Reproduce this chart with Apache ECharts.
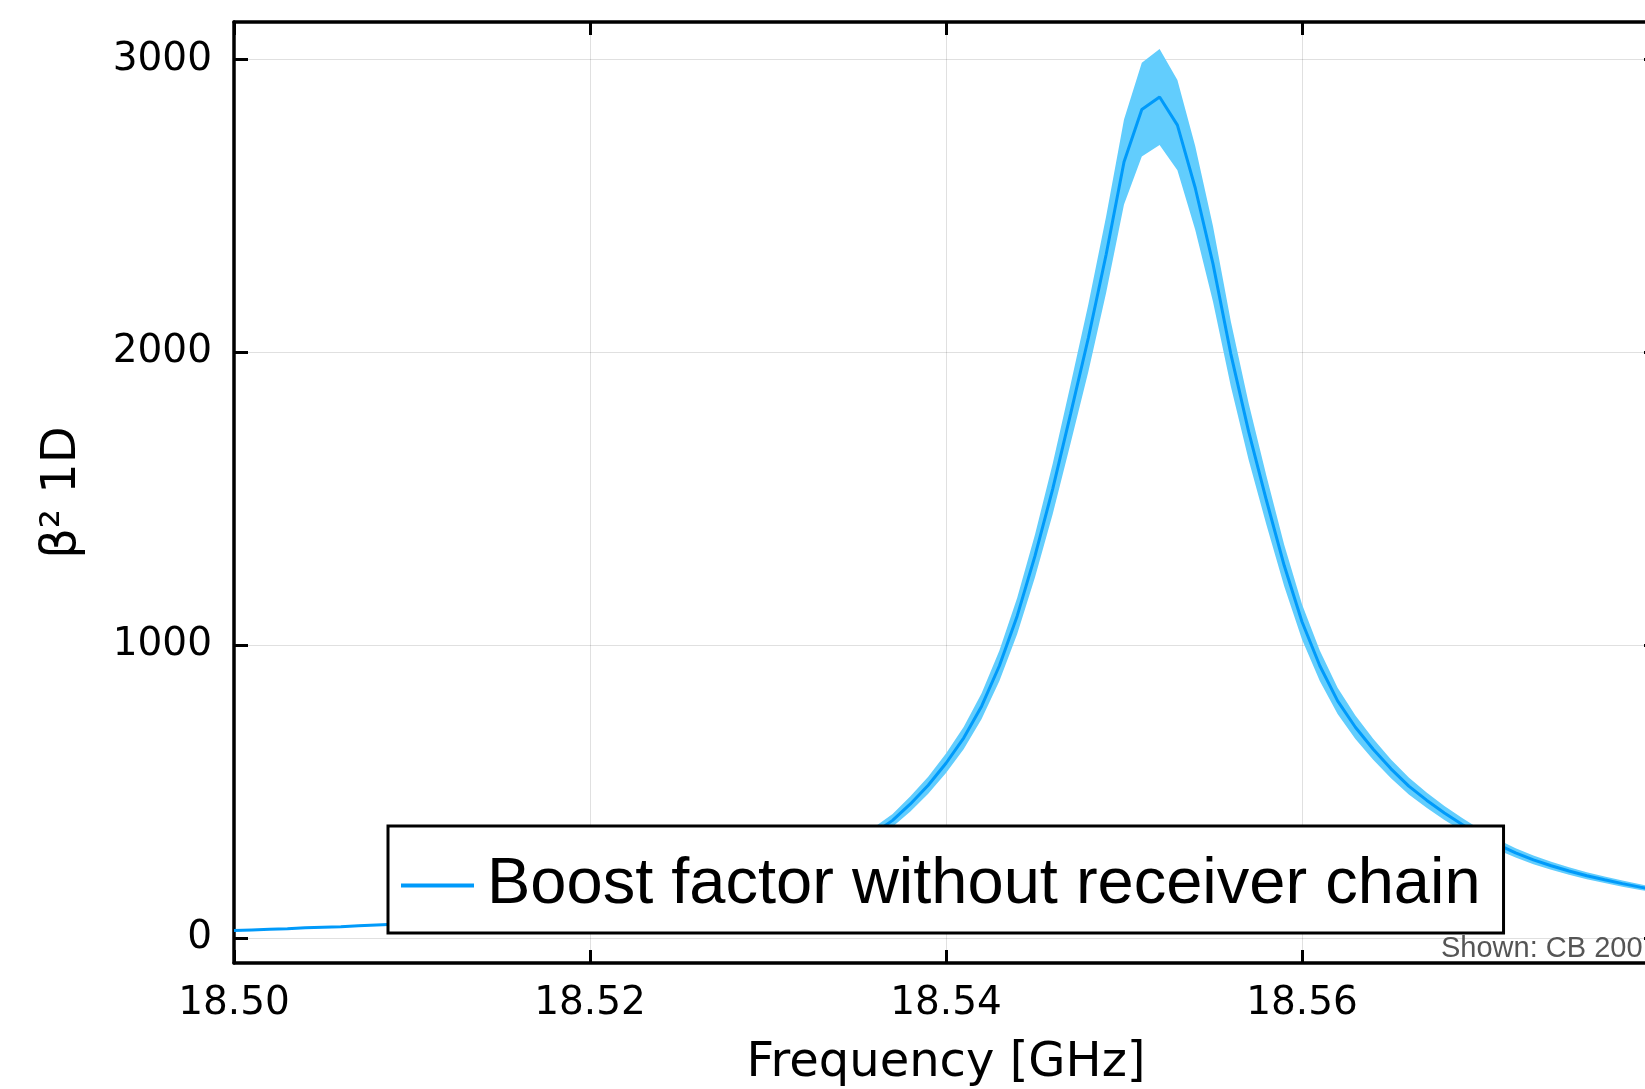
<!DOCTYPE html>
<html><head><meta charset="utf-8">
<script src="https://cdn.jsdelivr.net/npm/echarts@6/dist/echarts.min.js"></script>
<style>html,body{margin:0;padding:0;background:#fff;}#chart{width:1645px;height:1089px;}</style>
</head><body><div id="chart"></div>
<script>
const freqGHz = [18.500,18.501,18.502,18.503,18.504,18.505,18.506,18.507,18.508,18.509,
18.510,18.511,18.512,18.513,18.514,18.515,18.516,18.517,18.518,18.519,
18.520,18.521,18.522,18.523,18.524,18.525,18.526,18.527,18.528,18.529,
18.530,18.531,18.532,18.533,18.534,18.535,18.536,18.537,18.538,18.539,
18.540,18.541,18.542,18.543,18.544,18.545,18.546,18.547,18.548,18.549,
18.550,18.551,18.552,18.553,18.554,18.555,18.556,18.557,18.558,18.559,
18.560,18.561,18.562,18.563,18.564,18.565,18.566,18.567,18.568,18.569,
18.570,18.571,18.572,18.573,18.574,18.575,18.576,18.577,18.578,18.579,18.580];
const boost = [26,28,30,32,35,37,39,42,45,47,
50,53,56,59,62,66,70,74,79,84,
90,96,103,111,119,128,139,150,164,178,
195,214,236,260,289,322,360,402,458,522,
597,684,792,930,1100,1305,1535,1790,2050,2335,
2650,2829,2872,2776,2562,2302,1995,1730,1495,1272,
1080,930,810,720,645,578,519,471,427,388,
352,319,291,267,247,229,213,199,186,174,163];
const bandHalf = [1.5,1.6,1.7,1.8,2,2.1,2.2,2.4,2.5,2.6,
2.8,3,3.1,3.3,3.5,3.7,3.9,4.1,4.4,4.7,
5,5.4,5.8,6.2,6.7,7.2,7.8,8.4,9.2,10,
11,12,13,15,16,18,20,22,26,29,
33,38,44,52,62,73,86,100,115,131,
145,160,164,154,143,129,111,97,84,71,
60,52,45,40,36,32,29,26,24,22,
20,18,16,15,14,13,12,11,10.4,9.7,9.1];
const xTicks = [18.50,18.52,18.54,18.56];
const yTicks = [0,1000,2000,3000];
const seriesName = 'Boost factor without receiver chain';

const mainPairs = freqGHz.map((f,i)=>[f, boost[i]]);

const tickFont = {fontFamily:'DejaVu Sans', fontSize:39, color:'#000'};
const frame = {show:true, onZero:false, lineStyle:{color:'#000', width:3.5}};
const gridColor = 'rgba(0,0,0,0.12)';

function renderBand(params, api){
  if (params.dataIndex !== 0) return;
  const pts = [];
  for (let i = 0; i < freqGHz.length; i++) pts.push(api.coord([freqGHz[i], boost[i] + bandHalf[i]]));
  for (let i = freqGHz.length - 1; i >= 0; i--) pts.push(api.coord([freqGHz[i], boost[i] - bandHalf[i]]));
  return {type:'polygon', shape:{points:pts}, style:{fill:'#62CDFD', stroke:null}};
}

const chart = echarts.init(document.getElementById('chart'), null, {renderer:'canvas'});
chart.setOption({
  animation:false,
  backgroundColor:'#fff',
  grid:{left:234, top:22, width:1424, height:941, containLabel:false, outerBoundsMode:'none'},
  xAxis:[{
    type:'value', min:18.50, max:18.58, position:'bottom',
    axisLine:frame,
    axisTick:{show:true, inside:true, length:13, lineStyle:{color:'#000', width:3}, customValues:xTicks},
    axisLabel:Object.assign({margin:21, customValues:xTicks, formatter:v=>v.toFixed(2)}, tickFont),
    splitLine:{show:true, lineStyle:{color:gridColor, width:1}},
    name:'Frequency [GHz]', nameLocation:'middle', nameGap:77,
    nameTextStyle:{fontFamily:'DejaVu Sans', fontSize:48, color:'#000'}
  },{
    type:'value', min:18.50, max:18.58, position:'top',
    axisLine:frame,
    axisTick:{show:true, inside:true, length:13, lineStyle:{color:'#000', width:3}, customValues:xTicks},
    axisLabel:{show:false}, splitLine:{show:false}
  }],
  yAxis:[{
    type:'value', min:-85, max:3128, position:'left',
    axisLine:frame,
    axisTick:{show:true, inside:true, length:14, lineStyle:{color:'#000', width:3}, customValues:yTicks},
    axisLabel:Object.assign({margin:22, customValues:yTicks, formatter:v=>String(v)}, tickFont),
    splitLine:{show:true, lineStyle:{color:gridColor, width:1}},
    name:'β² 1D', nameLocation:'middle', nameGap:147, nameRotate:90,
    nameTextStyle:{fontFamily:'DejaVu Sans', fontSize:48, color:'#000'}
  },{
    type:'value', min:-85, max:3128, position:'right',
    axisLine:frame,
    axisTick:{show:true, inside:true, length:14, lineStyle:{color:'#000', width:3}, customValues:yTicks},
    axisLabel:{show:false}, splitLine:{show:false}
  }],
  legend:{
    data:[seriesName], left:388, top:826, orient:'horizontal',
    backgroundColor:'#fff', borderColor:'#000', borderWidth:3, borderRadius:0,
    padding:[27,23,15,13], itemWidth:73, itemHeight:4, icon:'rect', selectedMode:false,
    textStyle:{fontFamily:'Liberation Sans', fontSize:65, color:'#000', padding:[0,0,0,8]}
  },
  graphic:[{
    type:'text', left:1441, top:934, z:10,
    style:{text:'Shown: CB 200', font:'29px "Liberation Sans"', fill:'#555'}
  }],
  series:[
    {name:'band', type:'custom', renderItem:renderBand, data:mainPairs, encode:{x:0, y:1},
     silent:true, clip:true, z:1},
    {name:seriesName, type:'line', data:mainPairs, symbol:'none',
     lineStyle:{color:'#009AFA', width:3}, itemStyle:{color:'#009AFA'}, z:3}
  ]
});
</script></body></html>
